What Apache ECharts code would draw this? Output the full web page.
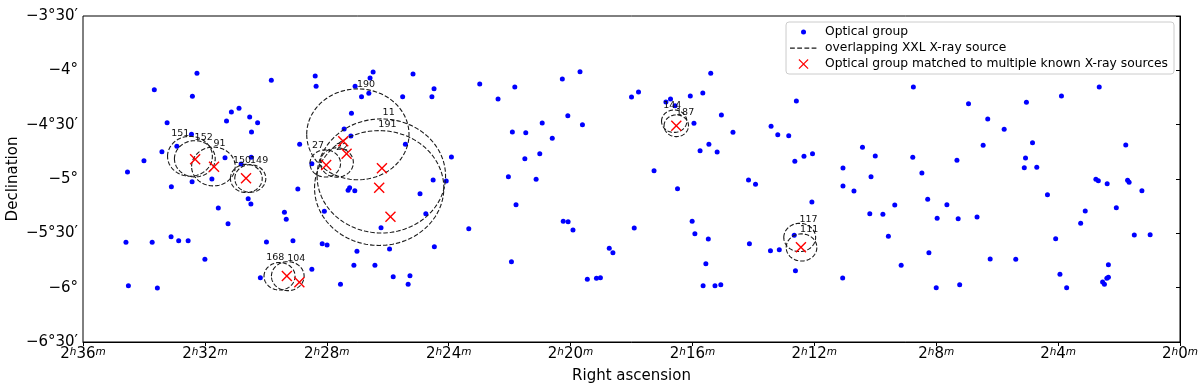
<!DOCTYPE html>
<html>
<head>
<meta charset="utf-8">
<script src="https://cdn.jsdelivr.net/npm/echarts@6.0.0/dist/echarts.min.js"></script>
<style>
    html, body { margin: 0; padding: 0; background: #fff; }
    #main { width: 1200px; height: 387px; }
</style>
</head>
<body>
<div id="main"></div>
<script>
    // RA is given in minutes after 2h, Dec in degrees
    const groupRA = [
        32.26, 29.82, 33.66, 32.41, 31.13, 30.88, 30.53, 31.29, 30.27, 33.24, 30.47, 32.44, 32.92, 33.41, 34.00, 34.54,
        31.34, 30.81, 30.48, 31.77, 32.42, 33.10, 30.58, 30.49, 31.56, 31.24, 33.11, 32.86, 32.55, 34.59, 33.73, 29.98,
        32.00, 30.18, 34.51, 33.56,
        28.38, 28.35, 26.48, 26.58, 27.07, 26.86, 26.62, 25.17, 24.48, 24.55, 25.51, 27.19, 27.43, 27.21, 28.89, 25.42,
        23.91, 28.49, 28.95, 27.30, 27.25, 27.08, 24.51, 24.08, 24.94, 29.39, 29.33, 28.08, 24.75, 26.22, 29.11, 28.15,
        27.99, 27.01, 25.94, 24.47, 28.49, 27.11, 26.42, 25.82, 25.27, 27.55, 25.33,
        22.98, 21.83, 22.38, 20.27, 19.69, 18.00, 17.77, 20.09, 19.61, 20.93, 21.91, 21.47, 20.60, 21.01, 21.50, 22.04,
        21.13, 17.26, 21.79, 23.34, 20.24, 20.08, 19.92, 17.91, 18.73, 18.61, 21.94, 19.45, 19.15, 19.02,
        15.40, 16.07, 15.66, 16.87, 16.72, 16.57, 15.05, 15.95, 14.67, 12.59, 13.42, 13.20, 12.84, 15.46, 15.75, 15.19,
        12.64, 12.34, 12.06, 11.06, 14.16, 13.93, 16.49, 11.06, 12.08, 16.01, 15.92, 15.48, 14.13, 12.66, 13.44, 13.15,
        15.56, 12.62, 11.07, 15.65, 15.26, 15.07,
        8.75, 6.94, 5.04, 6.31, 5.77, 4.84, 6.46, 10.42, 10.00, 8.77, 7.32, 5.07, 5.11, 8.47, 10.14, 10.70,
        8.28, 7.65, 9.36, 10.18, 9.75, 7.97, 7.28, 6.66, 9.57, 8.24, 6.23, 5.39, 9.15, 8.00, 7.23,
        2.65, 3.89, 1.78, 4.70, 2.76, 2.68, 2.39, 1.72, 1.67, 1.25, 4.35, 3.11, 2.09, 3.26, 4.08, 1.50,
        0.98, 2.35, 3.94, 2.40, 2.35, 2.54, 2.48, 3.72
    ];
    const groupDec = [
        -4.027, -4.092, -4.178, -4.239, -4.383, -4.349, -4.429, -4.466, -4.482, -4.482, -4.567, -4.589, -4.699, -4.749, -4.832, -4.936,
        -4.804, -4.862, -4.800, -5.000, -5.025, -5.071, -5.181, -5.230, -5.267, -5.411, -5.531, -5.568, -5.568, -5.582, -5.582, -5.580,
        -5.739, -5.908, -5.982, -6.003,
        -4.052, -4.147, -4.015, -4.071, -4.147, -4.243, -4.211, -4.034, -4.169, -4.243, -4.243, -4.395, -4.540, -4.604, -4.681, -4.681,
        -4.798, -4.859, -5.092, -5.104, -5.080, -5.108, -5.009, -5.018, -5.135, -5.306, -5.371, -5.297, -5.319, -5.448, -5.568, -5.595,
        -5.607, -5.665, -5.644, -5.623, -5.831, -5.794, -5.794, -5.899, -5.890, -5.969, -5.969,
        -4.126, -4.153, -4.264, -4.080, -4.013, -4.245, -4.199, -4.417, -4.500, -4.485, -4.567, -4.574, -4.625, -4.767, -4.813, -4.979,
        -5.003, -4.924, -5.236, -5.457, -5.389, -5.393, -5.469, -5.451, -5.638, -5.678, -5.761, -5.923, -5.914, -5.908,
        -4.027, -4.236, -4.209, -4.291, -4.264, -4.325, -4.411, -4.487, -4.570, -4.282, -4.515, -4.592, -4.601, -4.681, -4.740, -4.752,
        -4.837, -4.791, -4.767, -4.899, -5.009, -5.049, -5.089, -5.064, -5.212, -5.389, -5.503, -5.552, -5.595, -5.518, -5.660, -5.651,
        -5.779, -5.844, -5.911, -5.982, -5.982, -5.973,
        -4.153, -4.307, -4.294, -4.448, -4.543, -4.666, -4.690, -4.708, -4.788, -4.800, -4.828, -4.807, -4.896, -4.945, -4.979, -5.110,
        -5.187, -5.236, -5.239, -5.319, -5.325, -5.362, -5.365, -5.350, -5.527, -5.678, -5.736, -5.739, -5.794, -6.000, -5.973,
        -4.153, -4.236, -4.687, -4.892, -5.003, -5.016, -5.043, -5.012, -5.030, -5.108, -5.144, -5.294, -5.264, -5.408, -5.549, -5.515,
        -5.513, -5.789, -5.877, -5.914, -5.905, -5.948, -5.969, -6.000
    ];

    const matchRA = [32.32, 31.70, 30.65, 27.46, 27.35, 28.02, 26.19, 26.28, 25.91, 29.31, 28.90, 16.53, 12.44];
    const matchDec = [-4.819, -4.887, -4.994, -4.653, -4.767, -4.871, -4.901, -5.080, -5.347, -5.893, -5.951, -4.509, -5.628];

    // XXL sources: centre, radius (arcmin) and where the id is written
    const srcNames = ['151', '152', '91', '150', '149', '190', '11', '191', '27', '22', '168', '104', '144', '187', '117', '111'];
    const srcRA = [32.49, 32.33, 31.72, 30.64, 30.51, 26.98, 26.21, 26.28, 28.05, 27.67, 29.55, 29.28, 16.60, 16.53, 12.48, 12.42];
    const srcDec = [-4.791, -4.814, -4.885, -4.995, -4.995, -4.589, -4.972, -5.083, -4.857, -4.848, -5.895, -5.894, -4.468, -4.510, -5.538, -5.630];
    const srcRadius = [11.0, 10.0, 10.7, 7.8, 7.6, 25.1, 31.5, 31.7, 7.5, 8.1, 7.6, 8.0, 6.2, 6.0, 7.8, 7.5];
    const labelRA = [32.81, 32.04, 31.52, 30.78, 30.22, 26.71, 25.97, 26.01, 28.29, 27.50, 29.69, 29.00, 16.66, 16.24, 12.19, 12.17];
    const labelDec = [-4.579, -4.616, -4.669, -4.834, -4.834, -4.129, -4.390, -4.503, -4.694, -4.708, -5.720, -5.736, -4.325, -4.386, -5.371, -5.467];

    const FONT = 'DejaVu Sans';
    const crossSymbol = 'path://M0,0.9L0.9,0L5,4.1L9.1,0L10,0.9L5.9,5L10,9.1L9.1,10L5,5.9L0.9,10L0,9.1L4.1,5Z';
    // legend icons: the two tiny corner segments fix the icon box to 30x12
    const box = 'M0,0L0.01,0Z M30,12L29.99,12Z ';
    const dotIcon = 'path://' + box + 'M16,6A2.5,2.5 0 1 1 11,6A2.5,2.5 0 1 1 16,6Z';
    const dashIcon = 'path://' + box + 'M0,5.4h4.8v1.3h-4.8Z M7.2,5.4h4.8v1.3h-4.8Z M14.4,5.4h4.8v1.3h-4.8Z M21.6,5.4h4.8v1.3h-4.8Z';
    const crossIcon = 'path://' + box + 'M8.5,1.9L9.3,1.1L13.5,5.3L17.7,1.1L18.5,1.9L14.3,6.1L18.5,10.3L17.7,11.1L13.5,6.9L9.3,11.1L8.5,10.3L12.7,6.1Z';

    function renderSource(params, api) {
        const ra = api.value(0), dec = api.value(1), r = api.value(2);
        const dRa = r / (15 * Math.cos(dec * Math.PI / 180));
        const dDec = r / 60;
        const pts = [];
        for (let k = 0; k <= 120; k++) {
            const t = 2 * Math.PI * k / 120;
            pts.push(api.coord([ra + dRa * Math.cos(t), dec + dDec * Math.sin(t)]));
        }
        const lp = api.coord([api.value(3), api.value(4)]);
        return {
            type: 'group',
            children: [{
                type: 'polyline',
                shape: {points: pts},
                style: {fill: null, stroke: '#1a1a1a', lineWidth: 1.1, lineDash: [4.5, 2]}
            }, {
                type: 'text',
                x: lp[0], y: lp[1],
                style: {
                    text: srcNames[params.dataIndex], fill: '#111',
                    fontSize: 9.5, fontFamily: FONT,
                    align: 'center', verticalAlign: 'middle'
                }
            }]
        };
    }

    const myChart = echarts.init(document.getElementById('main'));
    const option = {
        animation: false,
        textStyle: {fontFamily: FONT},
        grid: {
            left: 83, right: 20, top: 16, bottom: 45,
            outerBoundsMode: 'none', containLabel: false,
            show: true, borderColor: '#000', borderWidth: 1
        },
        legend: {
            orient: 'vertical', right: 26, top: 22,
            padding: [4, 6, 4, 4],
            itemGap: 4, itemWidth: 30, itemHeight: 12,
            backgroundColor: 'rgba(255,255,255,0.8)',
            borderColor: '#cccccc', borderWidth: 1, borderRadius: 3,
            selectedMode: false,
            textStyle: {fontFamily: FONT, fontSize: 12.3, color: '#000'},
            data: [
                {name: 'Optical group', icon: dotIcon, itemStyle: {color: '#0000ff', borderWidth: 0, opacity: 1}},
                {name: 'overlapping XXL X-ray source', icon: dashIcon, itemStyle: {color: '#1a1a1a', borderWidth: 0, opacity: 1}},
                {name: 'Optical group matched to multiple known X-ray sources', icon: crossIcon, itemStyle: {color: '#ff0000', borderWidth: 0, opacity: 1}}
            ]
        },
        xAxis: {
            type: 'value', min: 0, max: 36, interval: 4, inverse: true,
            name: 'Right ascension', nameLocation: 'middle', nameGap: 27, nameMoveOverlap: false,
            nameTextStyle: {fontFamily: FONT, fontSize: 15, color: '#000'},
            axisLine: {lineStyle: {color: '#000', width: 1}},
            axisTick: {show: true, length: 4, lineStyle: {color: '#000'}},
            splitLine: {show: false},
            axisLabel: {
                margin: 5, showMinLabel: true, showMaxLabel: true,
                formatter: v => '{n|2}{s|h}{n|' + v + '}{s|m}',
                rich: {
                    n: {fontFamily: FONT, fontSize: 15, color: '#000'},
                    s: {fontFamily: FONT, fontSize: 10.5, fontStyle: 'italic', color: '#000', verticalAlign: 'top'}
                }
            }
        },
        yAxis: {
            type: 'value', min: -6.5, max: -3.5, interval: 0.5,
            name: 'Declination', nameLocation: 'middle', nameGap: 62, nameMoveOverlap: false,
            nameTextStyle: {fontFamily: FONT, fontSize: 15, color: '#000'},
            axisLine: {show: true, lineStyle: {color: '#000', width: 1}},
            axisTick: {show: true, length: 4, lineStyle: {color: '#000'}},
            splitLine: {show: false},
            axisLabel: {
                margin: 5, fontFamily: FONT, fontSize: 15, color: '#000',
                showMinLabel: true, showMaxLabel: true,
                formatter: v => {
                    const a = Math.abs(v), d = Math.floor(a + 1e-9);
                    const m = Math.round((a - d) * 60);
                    return '\u2212' + d + '°' + (m ? m + '\u2032' : '');
                }
            }
        },
        series: [{
            name: 'Optical group',
            type: 'scatter',
            symbol: 'circle', symbolSize: 5,
            itemStyle: {color: '#0000ff', opacity: 1},
            data: groupRA.map((ra, i) => [ra, groupDec[i]]),
            z: 2
        }, {
            name: 'overlapping XXL X-ray source',
            type: 'custom',
            renderItem: renderSource,
            itemStyle: {color: '#1a1a1a'},
            clip: true,
            encode: {x: 0, y: 1},
            data: srcRA.map((ra, i) => [ra, srcDec[i], srcRadius[i], labelRA[i], labelDec[i]]),
            z: 3
        }, {
            name: 'Optical group matched to multiple known X-ray sources',
            type: 'scatter',
            symbol: crossSymbol, symbolSize: 11,
            itemStyle: {color: '#ff0000', opacity: 1},
            data: matchRA.map((ra, i) => [ra, matchDec[i]]),
            z: 4
        }]
    };
    myChart.setOption(option);
</script>
</body>
</html>
